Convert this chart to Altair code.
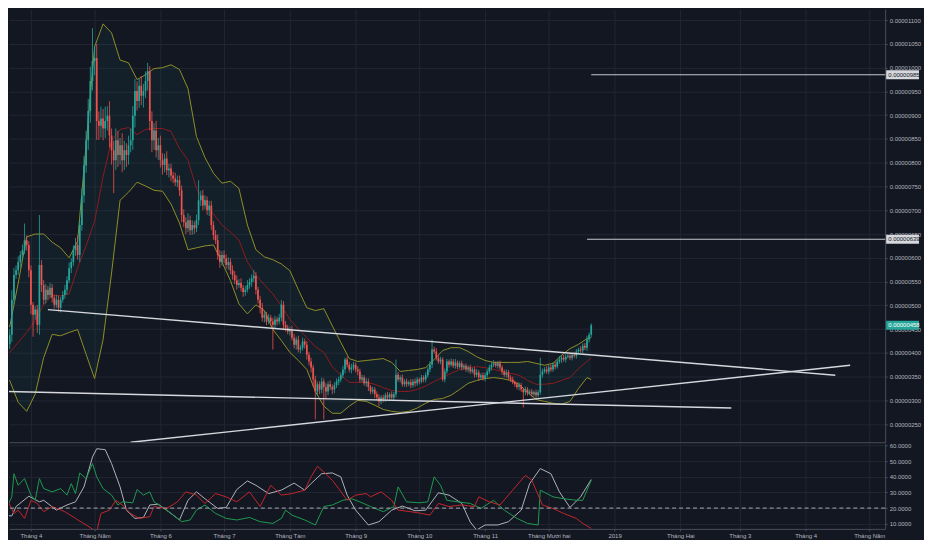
import json
import altair as alt
import pandas as pd

# ---------------- data (prices in units of 1e-8) ----------------
START = "2018-03-18"
first_open = 354
closes = [
    344, 361, 397, 418, 438, 512, 564, 574, 591, 606,
    616, 637, 627, 574, 501, 480, 491, 459, 585, 543,
    512, 533, 522, 537, 516, 501, 512, 495, 512, 522,
    533, 553, 578, 591, 616, 627, 606, 669, 731, 794,
    847, 909, 972, 1014, 1020, 888, 878, 893, 872, 888,
    899, 857, 826, 805, 847, 816, 837, 805, 826, 816,
    837, 847, 899, 951, 930, 962, 941, 951, 972, 993,
    888, 847, 868, 826, 837, 805, 795, 809, 784, 788,
    773, 767, 759, 763, 742, 690, 675, 662, 679, 658,
    669, 662, 679, 721, 731, 710, 721, 700, 710, 669,
    648, 637, 606, 591, 606, 599, 585, 591, 574, 564,
    553, 543, 547, 537, 528, 533, 543, 549, 557, 562,
    533, 512, 495, 474, 480, 466, 474, 466, 459, 470,
    466, 474, 501, 459, 453, 445, 449, 432, 417, 428,
    407, 411, 424, 417, 396, 382, 369, 344, 319, 334,
    323, 340, 328, 319, 334, 328, 323, 332, 340, 344,
    353, 365, 386, 375, 365, 369, 375, 365, 361, 344,
    348, 336, 340, 328, 319, 323, 313, 306, 298, 306,
    302, 311, 306, 313, 306, 313, 354, 344, 348, 334,
    340, 334, 338, 332, 340, 336, 344, 340, 348, 344,
    353, 365, 375, 407, 403, 390, 382, 386, 344, 361,
    382, 375, 382, 373, 380, 371, 378, 369, 373, 365,
    369, 361, 365, 354, 359, 348, 353, 346, 353, 361,
    369, 375, 378, 373, 378, 369, 361, 354, 359, 348,
    344, 338, 334, 328, 332, 323, 317, 323, 315, 319,
    313, 317, 311, 317, 354, 361, 365, 361, 369, 365,
    375, 371, 382, 386, 390, 386, 392, 394, 390, 396,
    394, 403, 407, 405, 415, 411, 428, 438, 458,
]
wick_up = [
    10, 8, 15, 10, 12, 20, 15, 10, 12, 8,
    12, 35, 10, 8, 10, 6, 8, 10, 105, 10,
    10, 12, 8, 10, 8, 6, 10, 8, 6, 8,
    10, 8, 12, 8, 10, 15, 20, 10, 15, 20,
    20, 25, 30, 69, 25, 30, 20, 25, 20, 30,
    20, 30, 15, 20, 25, 20, 15, 25, 20, 15,
    20, 25, 20, 25, 20, 15, 20, 15, 20, 17,
    10, 20, 15, 20, 15, 20, 15, 10, 15, 10,
    10, 8, 12, 10, 10, 10, 12, 10, 15, 10,
    10, 8, 12, 42, 10, 12, 10, 8, 10, 10,
    8, 10, 12, 10, 8, 10, 8, 10, 8, 10,
    8, 10, 8, 10, 6, 8, 10, 8, 8, 12,
    8, 6, 8, 10, 8, 6, 8, 6, 8, 8,
    6, 8, 10, 8, 8, 6, 6, 8, 8, 6,
    8, 6, 8, 6, 8, 6, 8, 6, 8, 6,
    6, 8, 6, 8, 6, 8, 6, 6, 6, 6,
    6, 8, 4, 6, 6, 8, 6, 5, 7, 6,
    6, 5, 7, 6, 4, 6, 5, 6, 7, 5,
    6, 5, 7, 4, 6, 5, 32, 6, 5, 7,
    5, 6, 4, 7, 5, 6, 5, 4, 6, 5,
    6, 5, 8, 21, 6, 7, 5, 6, 5, 6,
    5, 4, 6, 5, 7, 4, 5, 6, 4, 5,
    5, 6, 4, 5, 7, 5, 4, 6, 5, 5,
    6, 5, 7, 4, 5, 6, 5, 4, 6, 5,
    5, 6, 4, 5, 6, 5, 4, 6, 5, 4,
    5, 4, 6, 5, 36, 6, 5, 7, 5, 6,
    5, 6, 4, 7, 5, 6, 5, 4, 6, 5,
    6, 5, 4, 7, 5, 6, 8, 5, 4,
]
wick_dn = [
    8, 10, 6, 12, 10, 15, 10, 8, 10, 12,
    10, 8, 12, 15, 20, 46, 10, 17, 21, 15,
    10, 8, 10, 6, 10, 8, 6, 8, 10, 6,
    8, 10, 6, 10, 8, 12, 10, 15, 12, 15,
    15, 20, 25, 20, 30, 40, 30, 25, 25, 20,
    20, 25, 30, 69, 20, 25, 20, 25, 20, 25,
    20, 15, 20, 25, 20, 15, 20, 25, 15, 20,
    20, 25, 20, 15, 20, 15, 20, 15, 10, 15,
    12, 10, 8, 10, 12, 15, 10, 12, 8, 10,
    10, 12, 8, 10, 12, 10, 8, 10, 12, 10,
    10, 8, 10, 12, 8, 10, 8, 10, 8, 10,
    8, 10, 6, 8, 10, 8, 6, 8, 10, 8,
    10, 8, 12, 8, 10, 8, 6, 10, 52, 8,
    8, 6, 8, 10, 8, 6, 8, 6, 8, 10,
    6, 8, 6, 8, 10, 8, 10, 15, 59, 10,
    10, 8, 68, 15, 8, 6, 10, 8, 6, 8,
    6, 6, 8, 6, 6, 8, 6, 6, 8, 6,
    6, 5, 7, 8, 6, 5, 8, 6, 10, 6,
    6, 5, 7, 6, 5, 6, 7, 5, 6, 5,
    5, 6, 4, 6, 5, 7, 5, 6, 4, 6,
    6, 5, 6, 7, 5, 6, 5, 6, 4, 6,
    5, 6, 4, 5, 6, 5, 4, 6, 5, 5,
    6, 5, 4, 6, 5, 7, 5, 4, 6, 5,
    5, 6, 5, 4, 6, 5, 7, 5, 6, 5,
    5, 4, 6, 5, 7, 5, 32, 6, 5, 4,
    6, 5, 7, 5, 5, 6, 4, 5, 6, 5,
    5, 6, 4, 5, 7, 5, 6, 4, 5, 6,
    5, 6, 4, 5, 6, 5, 7, 6, 5,
]

# Bollinger bands sampled every 4 days
band_days = list(range(0, 277, 4)) + [278]
band_upper = [459, 455, 547, 644, 650, 650, 633, 621, 600, 635,
              838, 1044, 1092, 1073, 1016, 1010, 975, 985, 998, 1000,
              1006, 996, 956, 855, 811, 778, 757, 761, 746, 669,
              617, 602, 596, 587, 573, 533, 495, 489, 493, 457,
              422, 388, 382, 384, 386, 388, 380, 361, 363, 365,
              369, 386, 405, 411, 411, 403, 392, 384, 380, 380,
              380, 380, 382, 378, 374, 378, 395, 409, 418, 430, 432]
band_lower = [340, 342, 296, 277, 313, 390, 439, 436, 443, 449,
              397, 346, 428, 568, 721, 738, 759, 751, 742, 740,
              713, 673, 617, 621, 625, 627, 591, 552, 503, 482,
              501, 489, 449, 426, 401, 384, 365, 319, 288, 273,
              273, 288, 300, 298, 290, 281, 277, 275, 277, 284,
              294, 302, 304, 311, 323, 336, 342, 346, 348, 346,
              342, 334, 317, 302, 298, 294, 292, 298, 325, 348, 344]
band_mid = [401, 401, 422, 443, 468, 501, 522, 520, 524, 579,
            625, 677, 771, 847, 870, 874, 859, 870, 872, 872,
            866, 830, 805, 746, 715, 692, 669, 654, 637, 591,
            564, 543, 524, 499, 470, 451, 432, 413, 401, 371,
            353, 338, 338, 338, 334, 327, 321, 319, 319, 323,
            330, 340, 348, 357, 365, 369, 371, 369, 365, 361,
            357, 353, 342, 334, 334, 336, 342, 348, 367, 382, 390]

# DMI (lower pane)
adx_days = [0, 5, 7, 13, 18, 20, 26, 31, 35, 39, 43, 45, 49, 52, 56, 59, 63, 67, 70, 74,
            80, 84, 88, 92, 96, 102, 106, 111, 116, 120, 126, 132, 138, 143, 146, 151, 156, 160, 163, 167,
            173, 178, 184, 189, 195, 200, 206, 211, 217, 221, 224, 228, 234, 239, 245, 249, 254, 259, 263, 268,
            273, 278]
adx_vals = [15.5, 15, 21, 27.6, 24, 25, 18.7, 22, 24, 33.6, 52.7, 58, 57.4, 48.5, 33.6, 18.7, 13.4, 14, 22, 22.5,
            16.6, 12.4, 25, 30.4, 26, 19.8, 20.4, 31.9, 37.4, 34.6, 29.3, 31.5, 36, 31.5, 35.7, 42, 42.5, 40, 28.3, 18.7,
            9.2, 11.3, 18.7, 21.3, 18.3, 18.7, 29.8, 28.3, 23, 11.1, 6, 9.2, 9.2, 11.3, 18.7, 35.7, 45.3, 42, 30.4, 20.4,
            27.2, 38.3]
pdi_days = [0, 2, 5, 6, 8, 11, 14, 16, 18, 20, 24, 28, 31, 33, 35, 37, 40, 43, 45, 48,
            52, 55, 57, 62, 64, 67, 70, 72, 78, 82, 85, 89, 92, 96, 101, 106, 111, 117, 122, 128,
            132, 134, 137, 143, 148, 152, 156, 161, 165, 169, 174, 180, 185, 187, 191, 197, 201, 204, 207, 210,
            215, 221, 226, 232, 237, 243, 248, 253, 254, 260, 265, 271, 274, 278]
pdi_vals = [27.2, 18.7, 27.2, 42, 34.6, 38.9, 28.3, 25, 38.9, 32.5, 30.4, 32.5, 28.3, 35.7, 29.3, 42.5, 38.9, 48.5, 40, 32.5,
            28.3, 22, 24, 23.4, 31.9, 28.3, 30.4, 24, 18.7, 14.5, 11.3, 12.4, 18.7, 22, 16.6, 13.4, 12.4, 14, 11.3, 10.2,
            13.4, 18.7, 15.5, 12.4, 9.2, 21, 22, 25, 26, 24, 21, 17.7, 21, 33.6, 24, 23.4, 24, 40, 34.6, 25,
            24, 23, 19.8, 25, 18.7, 13.4, 10.2, 9.2, 31.5, 27.2, 26, 25, 25, 37.8]
mdi_days = [0, 3, 6, 8, 11, 14, 17, 20, 24, 30, 35, 40, 45, 47, 51, 54, 57, 61, 65, 70,
            72, 78, 83, 87, 92, 96, 101, 106, 111, 117, 122, 127, 132, 137, 143, 146, 149, 152, 156, 159,
            163, 167, 172, 174, 179, 184, 187, 193, 198, 202, 206, 211, 217, 223, 225, 230, 235, 241, 247, 250,
            255, 260, 265, 271, 274, 278]
mdi_vals = [32.5, 25, 16.6, 18.7, 13.4, 25, 23, 17.7, 21, 17.7, 13.4, 9.2, 4.9, 16.6, 18.7, 25, 22, 16.6, 13.4, 14.5,
            21, 19.8, 24, 30.4, 28.3, 23, 29.3, 27.2, 24, 30.4, 21, 34.6, 28.3, 29.3, 31.5, 40, 46.8, 43.1, 37.8, 32.5,
            25, 28.3, 29.3, 27.2, 30.4, 25, 18.7, 17.7, 16.6, 15.5, 23, 21, 22, 21, 27.2, 24, 22, 31.5, 41, 37.8,
            22, 19.8, 16.6, 13.4, 10.2, 7]

# Drawn trendlines (start/end date and price)
trend_ids = ["a", "a", "b", "b", "c", "c"]
trend_dates = ["2018-04-09", "2019-04-15", "2018-03-18", "2019-02-25", "2018-05-18", "2019-04-22"]
trend_prices = [491, 353, 319, 284, 212, 374]

# Horizontal levels
level_prices = [985, 639]
level_start = ["2018-12-21", "2018-12-19"]
level_end = ["2019-07-01", "2019-07-01"]

last_price = 458
price_ticks = list(range(250, 1101, 50))
dmi_ticks = [10, 20, 30, 40, 50, 60]
month_names = ["Tháng 1", "Tháng Hai", "Tháng 3", "Tháng 4", "Tháng Năm", "Tháng 6",
               "Tháng 7", "Tháng Tám", "Tháng 9", "Tháng 10", "Tháng 11", "Tháng Mười hai"]

# ---------------- frames ----------------
n = min(len(closes), len(wick_up), len(wick_dn))
start = pd.Timestamp(START)
opens = [first_open] + closes[:n - 1]
cdf = pd.DataFrame({
    "date": [(start + pd.Timedelta(days=i)).strftime("%Y-%m-%d") for i in range(n)],
    "open": opens[:n],
    "close": closes[:n],
})
cdf["high"] = [max(o, c) + w for o, c, w in zip(cdf["open"], cdf["close"], wick_up[:n])]
cdf["low"] = [min(o, c) - w for o, c, w in zip(cdf["open"], cdf["close"], wick_dn[:n])]
cdf["dir"] = ["up" if c >= o else "down" for o, c in zip(cdf["open"], cdf["close"])]

def to_dates(days):
    return [(start + pd.Timedelta(days=d)).strftime("%Y-%m-%d") for d in days]

bdf = pd.DataFrame({"date": to_dates(band_days), "upper": band_upper,
                    "lower": band_lower, "mid": band_mid})
bl = pd.concat([
    pd.DataFrame({"date": bdf["date"], "v": bdf["upper"], "s": "upper"}),
    pd.DataFrame({"date": bdf["date"], "v": bdf["lower"], "s": "lower"}),
    pd.DataFrame({"date": bdf["date"], "v": bdf["mid"], "s": "mid"}),
])
tdf = pd.DataFrame({"id": trend_ids, "date": trend_dates, "price": trend_prices})
ldf = pd.DataFrame({"price": level_prices, "start": level_start, "end": level_end})
boxes = pd.DataFrame({
    "price": level_prices + [last_price],
    "label": [f"{p / 1e8:.8f}" for p in level_prices + [last_price]],
    "bg": ["#d6d8de", "#d6d8de", "#26a69a"],
    "fg": ["#131722", "#131722", "#ffffff"],
})
ddf = pd.concat([
    pd.DataFrame({"date": to_dates(adx_days), "v": adx_vals, "s": "adx"}),
    pd.DataFrame({"date": to_dates(pdi_days), "v": pdi_vals, "s": "pdi"}),
    pd.DataFrame({"date": to_dates(mdi_days), "v": mdi_vals, "s": "mdi"}),
])

# ---------------- chart ----------------
W = 880
H_MAIN = 435
H_LOW = 86
BG = "#131722"
FONT = "Liberation Sans"

xscale = alt.Scale(type="utc", domain=[
    alt.DateTime(year=2018, month=3, date=21, hours=16, utc=True),
    alt.DateTime(year=2019, month=5, date=8, hours=12, utc=True)])
label_expr = ("utcmonth(datum.value) == 0 ? utcFormat(datum.value, '%Y') : "
              + json.dumps(month_names, ensure_ascii=False) + "[utcmonth(datum.value)]")
x_axis_top = alt.Axis(title=None, orient="bottom", labels=False, ticks=False, grid=True,
                      domain=True, tickCount="month")
x_axis_low = alt.Axis(title=None, orient="bottom", labelExpr=label_expr, tickCount="month",
                      grid=True, domain=True, tickSize=2, labelPadding=2,
                      labelOverlap=False, labelFlush=False)

yscale = alt.Scale(domain=[212, 1123], nice=False, zero=False)
y_axis = alt.Axis(title=None, orient="right", values=price_ticks,
                  labelExpr="format(datum.value / 1e8, '.8f')", grid=True, domain=True,
                  tickSize=2, labelPadding=2)

def XT(field="date:T"):
    return alt.X(field, scale=xscale, axis=x_axis_top)

def YP(field):
    return alt.Y(field, scale=yscale, axis=y_axis)

candle_color = alt.Color("dir:N", scale=alt.Scale(domain=["up", "down"],
                         range=["#26a69a", "#ef5350"]), legend=None)

band_fill = alt.Chart(bdf).mark_area(color="#26a69a", opacity=0.06, clip=True).encode(
    x=XT(), y=YP("upper:Q"), y2="lower:Q")
band_lines = alt.Chart(bl).mark_line(strokeWidth=1, clip=True).encode(
    x=XT(), y=YP("v:Q"), detail="s:N",
    color=alt.Color("s:N", scale=alt.Scale(domain=["upper", "lower", "mid"],
                    range=["#8f8f28", "#8f8f28", "#8e1c1f"]), legend=None))
wicks = alt.Chart(cdf).mark_rule(strokeWidth=0.8, clip=True).encode(
    x=XT(), y=YP("low:Q"), y2="high:Q", color=candle_color)
bodies = alt.Chart(cdf).mark_rule(strokeWidth=1.7, clip=True).encode(
    x=XT(), y=YP("open:Q"), y2="close:Q", color=candle_color)
trends = alt.Chart(tdf).mark_line(color="#d6d8de", strokeWidth=1.4, clip=True).encode(
    x=XT(), y=YP("price:Q"), detail="id:N")
levels = alt.Chart(ldf).mark_rule(color="#c8cad0", strokeWidth=1, clip=True).encode(
    x=XT("start:T"), x2="end:T", y=YP("price:Q"))
box_bg = alt.Chart(boxes).mark_rule(strokeWidth=9, strokeCap="butt").encode(
    x=alt.value(W + 1), x2=alt.value(W + 34), y=YP("price:Q"),
    color=alt.Color("bg:N", scale=None, legend=None))
box_text = alt.Chart(boxes).mark_text(align="left", baseline="middle", font=FONT,
                                      fontSize=6).encode(
    x=alt.value(W + 3), y=YP("price:Q"), text="label:N",
    color=alt.Color("fg:N", scale=None, legend=None))

main = alt.layer(band_fill, band_lines, wicks, bodies, trends, levels, box_bg, box_text
                 ).resolve_scale(color="independent").properties(width=W, height=H_MAIN)

yl_scale = alt.Scale(domain=[6.7, 61.5], nice=False, zero=False)
yl_axis = alt.Axis(title=None, orient="right", values=dmi_ticks, format=".4f", grid=True,
                   domain=True, tickSize=2, labelPadding=2)
dmi_lines = alt.Chart(ddf).mark_line(strokeWidth=1, clip=True).encode(
    x=alt.X("date:T", scale=xscale, axis=x_axis_low),
    y=alt.Y("v:Q", scale=yl_scale, axis=yl_axis),
    detail="s:N",
    color=alt.Color("s:N", scale=alt.Scale(domain=["adx", "pdi", "mdi"],
                    range=["#b0b2b8", "#1f9a50", "#c4262b"]), legend=None))
ref20 = alt.Chart(pd.DataFrame({"v": [20]})).mark_rule(
    color="#a8abb3", strokeWidth=1, strokeDash=[4, 3]).encode(
    y=alt.Y("v:Q", scale=yl_scale, axis=yl_axis))
lower = alt.layer(dmi_lines, ref20).properties(width=W, height=H_LOW)

chart = alt.vconcat(main, lower, spacing=0).properties(
    background=BG, padding={"left": 0, "right": 0, "top": 0, "bottom": 0}
).configure_view(strokeWidth=0).configure_axis(
    labelFont=FONT, labelFontSize=6, labelColor="#b2b5be",
    gridColor="#222633", gridWidth=1, domainColor="#4a4e5a", tickColor="#4a4e5a"
)

chart.save("out.html", embed_options={"renderer": "svg", "actions": False})
